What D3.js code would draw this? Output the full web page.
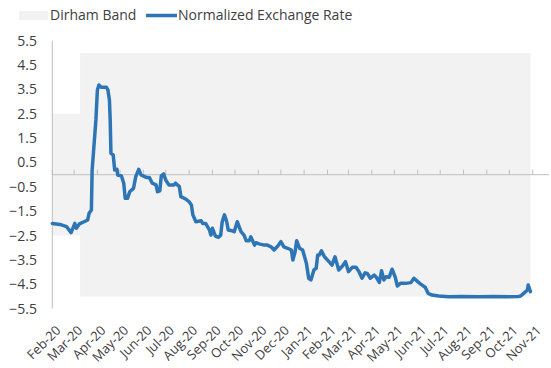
<!DOCTYPE html>
<html><head><meta charset="utf-8">
<script src="https://cdn.jsdelivr.net/npm/d3@7"></script>
<style>
html,body{margin:0;padding:0;background:#fff;}
svg{display:block;font-family:"Open Sans",sans-serif;}
</style></head>
<body><svg id="c" width="551" height="368"></svg>
<script>
// ---- data ----
const rateDates = ["2020-02-01","2020-02-11","2020-02-20","2020-02-26","2020-03-02","2020-03-04","2020-03-08","2020-03-15","2020-03-19","2020-03-21","2020-03-24","2020-03-25","2020-03-27","2020-03-30","2020-04-01","2020-04-03","2020-04-06","2020-04-13","2020-04-15","2020-04-17","2020-04-18","2020-04-19","2020-04-22","2020-04-24","2020-04-27","2020-04-28","2020-05-03","2020-05-06","2020-05-08","2020-05-11","2020-05-14","2020-05-19","2020-05-22","2020-05-26","2020-05-29","2020-06-05","2020-06-09","2020-06-13","2020-06-18","2020-06-20","2020-06-23","2020-06-25","2020-06-28","2020-07-01","2020-07-05","2020-07-12","2020-07-14","2020-07-19","2020-07-21","2020-07-28","2020-08-01","2020-08-04","2020-08-06","2020-08-10","2020-08-17","2020-08-19","2020-08-23","2020-08-28","2020-08-30","2020-09-01","2020-09-05","2020-09-09","2020-09-12","2020-09-14","2020-09-17","2020-09-20","2020-09-22","2020-09-27","2020-09-30","2020-10-04","2020-10-09","2020-10-13","2020-10-16","2020-10-20","2020-10-22","2020-10-27","2020-10-29","2020-11-02","2020-11-09","2020-11-13","2020-11-18","2020-11-22","2020-11-27","2020-12-01","2020-12-05","2020-12-10","2020-12-15","2020-12-17","2020-12-20","2020-12-22","2020-12-26","2020-12-30","2021-01-04","2021-01-07","2021-01-10","2021-01-14","2021-01-17","2021-01-19","2021-01-21","2021-01-24","2021-01-28","2021-02-03","2021-02-07","2021-02-11","2021-02-16","2021-02-21","2021-02-25","2021-03-01","2021-03-06","2021-03-11","2021-03-15","2021-03-19","2021-03-23","2021-03-26","2021-03-30","2021-04-04","2021-04-07","2021-04-11","2021-04-14","2021-04-17","2021-04-20","2021-04-24","2021-04-28","2021-05-02","2021-05-05","2021-05-09","2021-05-16","2021-05-23","2021-05-27","2021-06-01","2021-06-05","2021-06-11","2021-06-15","2021-06-20","2021-06-29","2021-07-12","2021-07-30","2021-08-20","2021-09-10","2021-09-30","2021-10-13","2021-10-16","2021-10-20","2021-10-25","2021-10-26","2021-10-29"];
const rateValues = [-2.0,-2.04,-2.13,-2.38,-2.0,-2.2,-2.02,-1.92,-1.86,-1.58,-1.45,0.19,1.01,2.25,3.48,3.68,3.59,3.59,3.48,3.07,2.25,0.88,0.81,0.19,0.22,-0.01,-0.05,-0.35,-0.97,-0.97,-0.70,-0.56,-0.08,0.22,-0.01,-0.11,-0.11,-0.35,-0.42,-0.70,-0.66,-0.05,0.03,-0.22,-0.42,-0.42,-0.35,-0.49,-0.90,-1.01,-1.11,-1.24,-1.65,-1.93,-1.89,-2.0,-2.0,-2.27,-2.48,-2.20,-2.52,-2.57,-2.48,-1.93,-1.65,-1.93,-2.27,-2.30,-2.34,-1.93,-2.34,-2.48,-2.71,-2.71,-2.55,-2.89,-2.79,-2.84,-2.89,-2.89,-2.96,-3.09,-2.93,-2.75,-2.96,-3.02,-3.09,-3.50,-3.16,-2.71,-3.02,-3.09,-3.64,-4.25,-4.32,-3.91,-3.84,-3.30,-3.30,-3.12,-3.37,-3.57,-3.71,-3.37,-3.91,-3.75,-3.57,-3.98,-3.80,-3.80,-3.98,-4.25,-4.03,-4.05,-4.25,-4.12,-4.21,-4.42,-3.94,-4.32,-4.19,-4.21,-3.88,-4.19,-4.57,-4.46,-4.46,-4.43,-4.25,-4.39,-4.49,-4.62,-4.87,-4.94,-4.98,-5.01,-5.0,-5.01,-5.0,-5.01,-5.0,-4.98,-4.87,-4.73,-4.53,-4.80];

const bandDates = ["2020-02-01","2020-03-09","2020-03-09","2021-10-29"];
const bandUpper = [2.5,2.5,5,5];
const bandLower = [-2.5,-2.5,-5,-5];

const yTicks = [5.5,4.5,3.5,2.5,1.5,0.5,-0.5,-1.5,-2.5,-3.5,-4.5,-5.5];
const xDomain = ["2020-02-01","2021-11-01"];
const legendLabels = ["Dirham Band","Normalized Exchange Rate"];

// ---- chart ----
const parse = d3.utcParse("%Y-%m-%d");
const svg = d3.select("#c");
const x = d3.scaleUtc().domain(xDomain.map(parse)).range([52.3, 532.7]);
const y = d3.scaleLinear().domain([-5.5, 5.5]).range([308.7, 40.7]);

const BAND = "#f2f2f2", LINE = "#2e75b6", AXIS = "#bfbfbf", TXT = "#404040";
const FS = 14;

const band = bandDates.map((d,i)=>({d:parse(d), u:bandUpper[i], l:bandLower[i]}));
svg.append("path").datum(band)
  .attr("d", d3.area().x(d=>x(d.d)).y0(d=>y(d.l)).y1(d=>y(d.u)))
  .attr("fill", BAND);

// y axis line
svg.append("line").attr("x1",52.3).attr("x2",52.3).attr("y1",y(5.5)).attr("y2",y(-5.5))
  .attr("stroke",AXIS).attr("stroke-width",1);
// y labels
svg.append("g").selectAll("text").data(yTicks).join("text")
  .attr("x",37).attr("y",d=>y(d)).attr("dy","0.35em")
  .attr("text-anchor","end").attr("font-size",FS).attr("fill",TXT)
  .text(d=>d3.format(".1f")(d));

// x axis at zero
svg.append("line").attr("x1",52.3).attr("x2",549).attr("y1",y(0)).attr("y2",y(0))
  .attr("stroke",AXIS).attr("stroke-width",1);
const months = d3.utcMonth.range(parse("2020-02-01"), d3.utcDay.offset(parse("2021-11-01"),1));
svg.append("g").selectAll("line").data(months).join("line")
  .attr("x1",d=>x(d)).attr("x2",d=>x(d)).attr("y1",y(0)-5).attr("y2",y(0))
  .attr("stroke",AXIS).attr("stroke-width",1);
const fmt = d3.utcFormat("%b-%y");
svg.append("g").selectAll("text").data(months).join("text")
  .attr("transform",d=>`translate(${x(d)+6},${328}) rotate(-45)`)
  .attr("text-anchor","end").attr("dy","0.35em")
  .attr("font-size",13).attr("fill",TXT).text(d=>fmt(d));

// line
const pts = rateDates.map((d,i)=>({d:parse(d), v:rateValues[i]}));
svg.append("path").datum(pts)
  .attr("d", d3.line().x(d=>x(d.d)).y(d=>y(d.v)))
  .attr("fill","none").attr("stroke",LINE).attr("stroke-width",3.5)
  .attr("stroke-linejoin","round").attr("stroke-linecap","round");

// legend
svg.append("rect").attr("x",19).attr("y",11).attr("width",29).attr("height",9).attr("fill",BAND);
svg.append("text").attr("x",50).attr("y",15.5).attr("dy","0.35em").attr("font-size",FS).attr("fill",TXT).text(legendLabels[0]);
svg.append("line").attr("x1",146).attr("x2",177).attr("y1",15.5).attr("y2",15.5).attr("stroke",LINE).attr("stroke-width",3.5);
svg.append("text").attr("x",178).attr("y",15.5).attr("dy","0.35em").attr("font-size",FS).attr("fill",TXT).text(legendLabels[1]);
</script></body></html>
